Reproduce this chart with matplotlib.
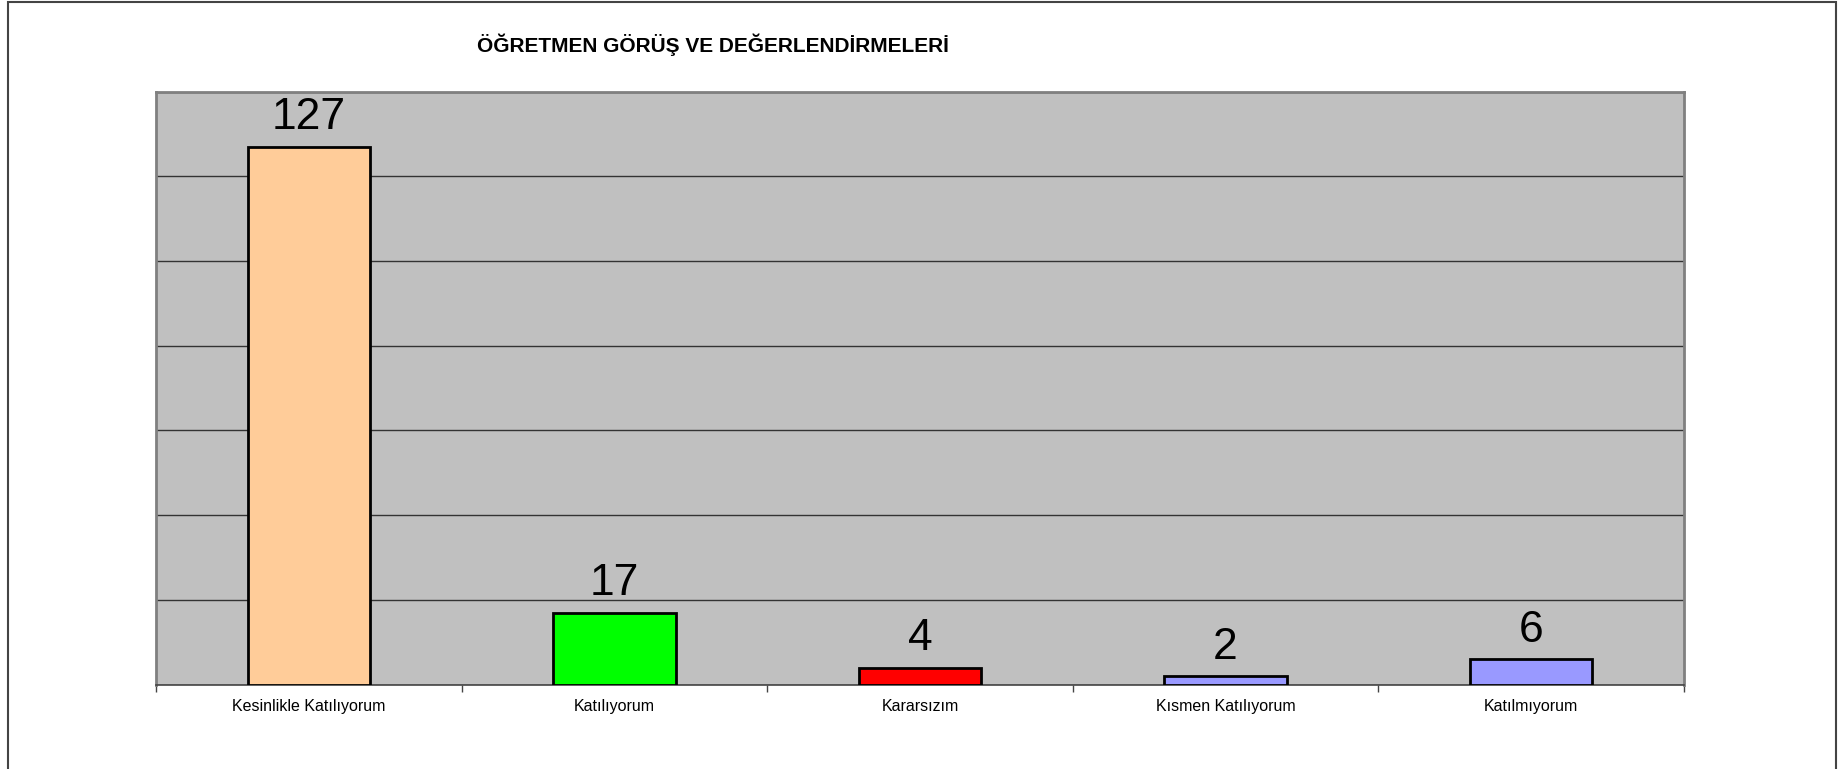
import numpy as np
import matplotlib.pyplot as plt
from matplotlib.patches import Rectangle

categories = ["Kesinlikle Katılıyorum", "Katılıyorum", "Kararsızım",
              "Kısmen Katılıyorum", "Katılmıyorum"]
values = [127, 17, 4, 2, 6]
colors = ["#FFCC99", "#00FF00", "#FF0000", "#9999FF", "#9999FF"]
title = "ÖĞRETMEN GÖRÜŞ VE DEĞERLENDİRMELERİ"

plt.rcParams["font.family"] = ["Liberation Sans", "DejaVu Sans"]

fig = plt.figure(figsize=(18.41, 7.69), dpi=100)
ax = fig.add_axes([156 / 1841, 1 - 684.5 / 769, (1684 - 156) / 1841, (684.5 - 91.6) / 769])

# outer chart border (bottom edge runs off the image)
fig.patches.append(Rectangle((8 / 1841, -20 / 769), 1828 / 1841, 787 / 769,
                             transform=fig.transFigure, fill=False,
                             edgecolor="#444444", lw=1.5, clip_on=False))

x = np.arange(len(categories))
ax.set_facecolor("#C0C0C0")
ax.bar(x, values, width=0.4, color=colors, edgecolor="black", lw=2, zorder=3)

ax.set_xlim(-0.5, len(categories) - 0.5)
ax.set_ylim(0, 140)
ax.set_yticks(np.arange(0, 141, 20))
ax.yaxis.grid(True, color="#333333", lw=1)
ax.set_axisbelow(True)
ax.tick_params(axis="y", left=False, labelleft=False)

for sp in ["top", "right", "left"]:
    ax.spines[sp].set_color("#808080")
    ax.spines[sp].set_linewidth(2)
ax.spines["bottom"].set_color("#444444")
ax.spines["bottom"].set_linewidth(1.2)

# category ticks sit at boundaries, labels in the middle
ax.set_xticks(np.arange(-0.5, len(categories)))
ax.set_xticklabels([""] * (len(categories) + 1))
ax.tick_params(axis="x", length=5, width=1, color="#444444")
for i, c in enumerate(categories):
    ax.annotate(c, (i, 0), xytext=(0, -16), textcoords="offset points",
                ha="center", va="center", fontsize=11.5)

for i, v in enumerate(values):
    ax.annotate(str(v), (i, v), xytext=(0, 12.5), textcoords="offset points",
                ha="center", va="baseline", fontsize=32)

fig.text(713 / 1841, 1 - 44.6 / 769, title, ha="center", va="center",
         fontsize=15, fontweight="bold")

fig.savefig("out.png", dpi=100)
